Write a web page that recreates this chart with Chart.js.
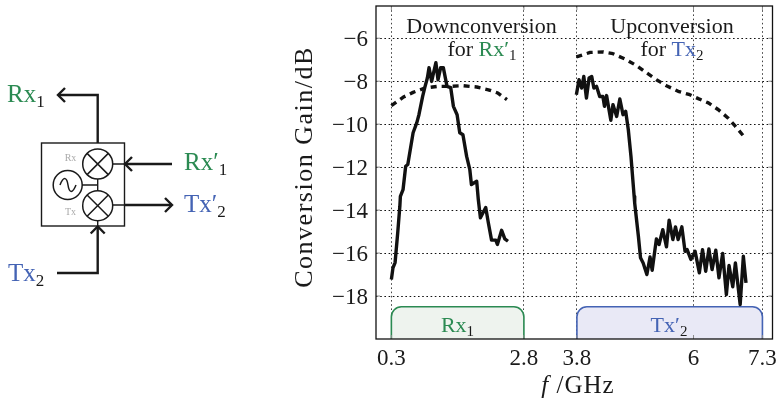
<!DOCTYPE html>
<html>
<head>
<meta charset="utf-8">
<style>html,body{margin:0;padding:0;background:#fff}canvas{display:block}</style>
<script src="https://cdn.jsdelivr.net/npm/chart.js@4"></script>
</head>
<body>
<canvas id="c" width="778" height="406" style="width:778px;height:406px"></canvas>
<script>
const xTicks = [0.3, 2.8, 3.8, 6, 7.3];
const yTicks = [-18, -16, -14, -12, -10, -8, -6];

const rxSolidF = [0.30,0.33,0.37,0.42,0.46,0.47,0.52,0.57,0.61,0.71,0.78,0.82,0.89,0.93,0.98,1.01,1.06,1.10,1.14,1.18,1.23,1.28,1.35,1.42,1.47,1.54,1.59,1.65,1.72,1.78,1.81,1.91,1.94,1.98,2.08,2.13,2.19,2.27,2.30,2.38,2.44,2.50];
const rxSolidG = [-17.23,-16.69,-16.44,-15.05,-13.82,-13.36,-13.05,-11.96,-11.88,-10.40,-9.93,-9.56,-8.71,-8.30,-7.84,-7.37,-8.01,-7.56,-7.14,-7.93,-7.37,-7.37,-8.24,-8.30,-9.17,-9.56,-10.40,-10.49,-11.50,-12.12,-12.81,-12.66,-13.51,-14.36,-13.88,-14.60,-15.40,-15.40,-15.60,-14.94,-15.34,-15.45];
const rxDashF = [0.30,0.52,0.71,0.93,1.18,1.40,1.65,1.91,2.13,2.31,2.48];
const rxDashG = [-9.14,-8.75,-8.52,-8.32,-8.24,-8.24,-8.21,-8.27,-8.40,-8.55,-8.86];
const txSolidF = [3.79,3.84,3.89,3.93,3.98,4.03,4.08,4.12,4.17,4.23,4.29,4.32,4.36,4.44,4.48,4.55,4.61,4.67,4.72,4.77,4.82,4.88,4.89,4.96,5.00,5.05,5.12,5.18,5.22,5.30,5.35,5.42,5.49,5.54,5.61,5.66,5.71,5.78,5.84,5.88,5.95,6.03,6.11,6.17,6.23,6.29,6.35,6.42,6.48,6.55,6.62,6.67,6.74,6.79,6.88,6.94,6.99];
const txSolidG = [-8.63,-7.93,-8.32,-7.78,-8.78,-7.85,-7.78,-8.32,-8.24,-8.71,-8.71,-9.17,-8.67,-9.82,-9.09,-9.64,-8.83,-9.56,-9.40,-10.26,-11.50,-13.36,-13.67,-15.22,-16.22,-16.46,-17.00,-16.18,-16.80,-15.34,-15.60,-14.91,-15.71,-14.47,-15.37,-14.78,-15.37,-14.78,-15.92,-15.84,-16.30,-15.92,-16.92,-15.84,-16.85,-15.81,-16.77,-15.87,-17.15,-16.02,-17.93,-16.58,-17.57,-16.46,-18.40,-16.15,-17.39];
const txDashF = [3.79,4.05,4.30,4.48,4.71,4.93,5.12,5.30,5.49,5.71,5.93,6.09,6.28,6.47,6.65,6.78,6.95];
const txDashG = [-6.87,-6.66,-6.64,-6.72,-6.97,-7.28,-7.62,-7.93,-8.21,-8.47,-8.63,-8.81,-9.01,-9.33,-9.71,-10.07,-10.57];

const rxBand = [0.3, 2.8];
const txBand = [3.8, 7.3];
const bandTop = -18.5;

const GREEN = '#2b8a52', BLUE = '#4463b4', INK = '#1a1a1a';
const SERIF = '"Liberation Serif", serif';
const pts = (f, g) => f.map((v, i) => ({x: v, y: g[i]}));

function runs(ctx, x, y, parts, align) {
  let w = 0;
  parts.forEach(p => { ctx.font = p.font; w += ctx.measureText(p.t).width; });
  let cx = align === 'center' ? x - w / 2 : x;
  ctx.textAlign = 'left';
  ctx.textBaseline = 'alphabetic';
  parts.forEach(p => {
    ctx.font = p.font; ctx.fillStyle = p.c;
    ctx.fillText(p.t, cx, y + (p.dy || 0));
    cx += ctx.measureText(p.t).width;
  });
}
const big = (t, c) => ({t, c, font: '22px ' + SERIF});
const sub = (t, c) => ({t, c: c || INK, font: '15px ' + SERIF, dy: 4});
const dia = (t, c) => ({t, c, font: '25px ' + SERIF});
const dsub = (t) => ({t, c: INK, font: '17px ' + SERIF, dy: 5});

function arrow(ctx, x, y, dx, dy) {
  const s = 7;
  ctx.beginPath();
  ctx.moveTo(x - dx * s + dy * s, y - dy * s + dx * s);
  ctx.lineTo(x, y);
  ctx.lineTo(x - dx * s - dy * s, y - dy * s - dx * s);
  ctx.stroke();
}
function mixer(ctx, x, y, r) {
  ctx.beginPath(); ctx.arc(x, y, r, 0, 7); ctx.fillStyle = '#fff'; ctx.fill(); ctx.stroke();
  const d = r * Math.SQRT1_2;
  ctx.beginPath();
  ctx.moveTo(x - d, y - d); ctx.lineTo(x + d, y + d);
  ctx.moveTo(x - d, y + d); ctx.lineTo(x + d, y - d);
  ctx.stroke();
}
function band(ctx, chart, range, stroke, fill) {
  const xs = chart.scales.x, ys = chart.scales.y;
  const a = xs.getPixelForValue(range[0]), b = xs.getPixelForValue(range[1]);
  const t = ys.getPixelForValue(bandTop), bot = chart.chartArea.bottom;
  const r = 10;
  ctx.beginPath();
  ctx.moveTo(a, bot); ctx.lineTo(a, t + r);
  ctx.arcTo(a, t, a + r, t, r); ctx.lineTo(b - r, t);
  ctx.arcTo(b, t, b, t + r, r); ctx.lineTo(b, bot);
  ctx.fillStyle = fill; ctx.fill();
  ctx.strokeStyle = stroke; ctx.lineWidth = 1.6; ctx.stroke();
}

const bands = {
  id: 'bands',
  beforeDatasetsDraw(chart) {
    const ctx = chart.ctx; ctx.save();
    band(ctx, chart, rxBand, GREEN, '#eef3ee');
    band(ctx, chart, txBand, BLUE, '#e9e9f6');
    ctx.restore();
  }
};

const deco = {
  id: 'deco',
  afterDraw(chart) {
    const ctx = chart.ctx, a = chart.chartArea;
    const xs = chart.scales.x, ys = chart.scales.y;
    ctx.save();
    // tick marks
    ctx.strokeStyle = '#8a8a8a'; ctx.lineWidth = 1;
    ctx.beginPath();
    xTicks.forEach(v => { const p = xs.getPixelForValue(v);
      ctx.moveTo(p, a.top); ctx.lineTo(p, a.top + 4); ctx.moveTo(p, a.bottom); ctx.lineTo(p, a.bottom - 4); });
    yTicks.forEach(v => { const p = ys.getPixelForValue(v);
      ctx.moveTo(a.left, p); ctx.lineTo(a.left + 4, p); ctx.moveTo(a.right, p); ctx.lineTo(a.right - 4, p); });
    ctx.stroke();
    // frame
    ctx.strokeStyle = '#111'; ctx.lineWidth = 1.3;
    ctx.strokeRect(a.left, a.top, a.right - a.left, a.bottom - a.top);
    // plot annotations
    runs(ctx, 481.5, 33, [big('Downconversion', INK)], 'center');
    runs(ctx, 482, 56, [big('for ', INK), big('Rx′', GREEN), sub('1')], 'center');
    runs(ctx, 672, 33, [big('Upconversion', INK)], 'center');
    runs(ctx, 672, 56, [big('for ', INK), big('Tx', BLUE), sub('2')], 'center');
    runs(ctx, 457.5, 332, [big('Rx', GREEN), sub('1')], 'center');
    runs(ctx, 669, 332, [big('Tx′', BLUE), sub('2')], 'center');
    // axis titles
    ctx.letterSpacing = '1px';
    runs(ctx, 578, 393, [{t: 'f', c: INK, font: 'italic 25px ' + SERIF}, {t: ' /GHz', c: INK, font: '25px ' + SERIF}], 'center');
    ctx.letterSpacing = '1.5px';
    ctx.save();
    ctx.translate(312, 167);
    ctx.rotate(-Math.PI / 2);
    runs(ctx, 0, 0, [{t: 'Conversion Gain/dB', c: INK, font: '26px ' + SERIF}], 'center');
    ctx.restore();
    ctx.letterSpacing = '0px';

    // block diagram
    ctx.lineCap = 'butt'; ctx.lineJoin = 'miter';
    ctx.strokeStyle = INK;
    ctx.lineWidth = 2.4;
    ctx.beginPath();
    ctx.moveTo(97.7, 143); ctx.lineTo(97.7, 95); ctx.lineTo(58, 95);
    ctx.moveTo(172, 164); ctx.lineTo(125, 164);
    ctx.moveTo(124.5, 205); ctx.lineTo(172, 205);
    ctx.moveTo(57, 273); ctx.lineTo(97.7, 273); ctx.lineTo(97.7, 226);
    ctx.stroke();
    arrow(ctx, 58, 95, -1, 0);
    arrow(ctx, 125, 164, -1, 0);
    arrow(ctx, 172, 205, 1, 0);
    arrow(ctx, 97.7, 226.5, 0, -1);
    ctx.lineWidth = 1.4;
    ctx.strokeRect(41.5, 143, 83, 83);
    ctx.beginPath();
    ctx.moveTo(113, 164); ctx.lineTo(125, 164);
    ctx.moveTo(113, 205); ctx.lineTo(125, 205);
    ctx.moveTo(82, 185); ctx.lineTo(97.7, 185);
    ctx.moveTo(97.7, 179); ctx.lineTo(97.7, 191);
    ctx.moveTo(97.7, 220); ctx.lineTo(97.7, 226);
    ctx.stroke();
    ctx.lineWidth = 1.5;
    mixer(ctx, 97.7, 164, 15);
    mixer(ctx, 97.7, 205.7, 15);
    ctx.beginPath(); ctx.arc(67.7, 185, 14.5, 0, 7); ctx.stroke();
    ctx.beginPath();
    ctx.moveTo(60, 185);
    ctx.bezierCurveTo(64, 175, 67, 178, 68, 185);
    ctx.bezierCurveTo(69, 192, 72, 195, 76, 185);
    ctx.stroke();
    runs(ctx, 70.5, 161, [{t: 'Rx', c: '#aaa', font: '10px ' + SERIF}], 'center');
    runs(ctx, 70.5, 215, [{t: 'Tx', c: '#aaa', font: '10px ' + SERIF}], 'center');
    runs(ctx, 7, 102, [dia('Rx', GREEN), dsub('1')]);
    runs(ctx, 184, 170, [dia('Rx′', GREEN), dsub('1')]);
    runs(ctx, 184, 212, [dia('Tx′', BLUE), dsub('2')]);
    runs(ctx, 8, 281, [dia('Tx', BLUE), dsub('2')]);
    ctx.restore();
  }
};

const noPad = s => { s.paddingLeft = s.paddingRight = s.paddingTop = s.paddingBottom = 0; };
const scaleFont = {family: SERIF, size: 23};

new Chart(document.getElementById('c'), {
  type: 'scatter',
  plugins: [bands, deco],
  data: {
    datasets: [
      {label: 'Rx₁ measured', data: pts(rxSolidF, rxSolidG)},
      {label: 'Tx′₂ measured', data: pts(txSolidF, txSolidG)},
      {label: 'Rx₁ simulated', data: pts(rxDashF, rxDashG), borderDash: [6, 5]},
      {label: 'Tx′₂ simulated', data: pts(txDashF, txDashG), borderDash: [6, 5]}
    ].map(d => Object.assign({showLine: true, pointRadius: 0, borderColor: '#111', backgroundColor: '#111',
      borderWidth: 3.4, tension: 0, borderJoinStyle: 'round', fill: false}, d))
  },
  options: {
    responsive: false,
    animation: false,
    devicePixelRatio: 1,
    layout: {padding: {left: 290, top: 6, right: 5.5, bottom: 0}},
    plugins: {legend: {display: false}, tooltip: {enabled: false}, title: {display: false}},
    scales: {
      x: {
        type: 'linear', min: 0.01, max: 7.49,
        afterBuildTicks: s => { s.ticks = xTicks.map(v => ({value: v})); },
        afterFit: s => { s.height = 67; noPad(s); },
        ticks: {font: scaleFont, color: INK, padding: 6, autoSkip: false, maxRotation: 0, callback: v => String(v)},
        grid: {color: '#444', lineWidth: 1, drawTicks: false},
        border: {display: false, dash: [1.6, 2.6]}
      },
      y: {
        type: 'linear', min: -20, max: -4.5,
        afterBuildTicks: s => { s.ticks = yTicks.map(v => ({value: v})); },
        afterFit: s => { s.width = 86; noPad(s); },
        ticks: {font: scaleFont, color: INK, padding: 8, labelOffset: 1.5, autoSkip: false, callback: v => '−' + Math.abs(v)},
        grid: {color: '#111', lineWidth: 1, drawTicks: false},
        border: {display: false, dash: [1.6, 2.6]}
      }
    }
  }
});
</script>
</body>
</html>
